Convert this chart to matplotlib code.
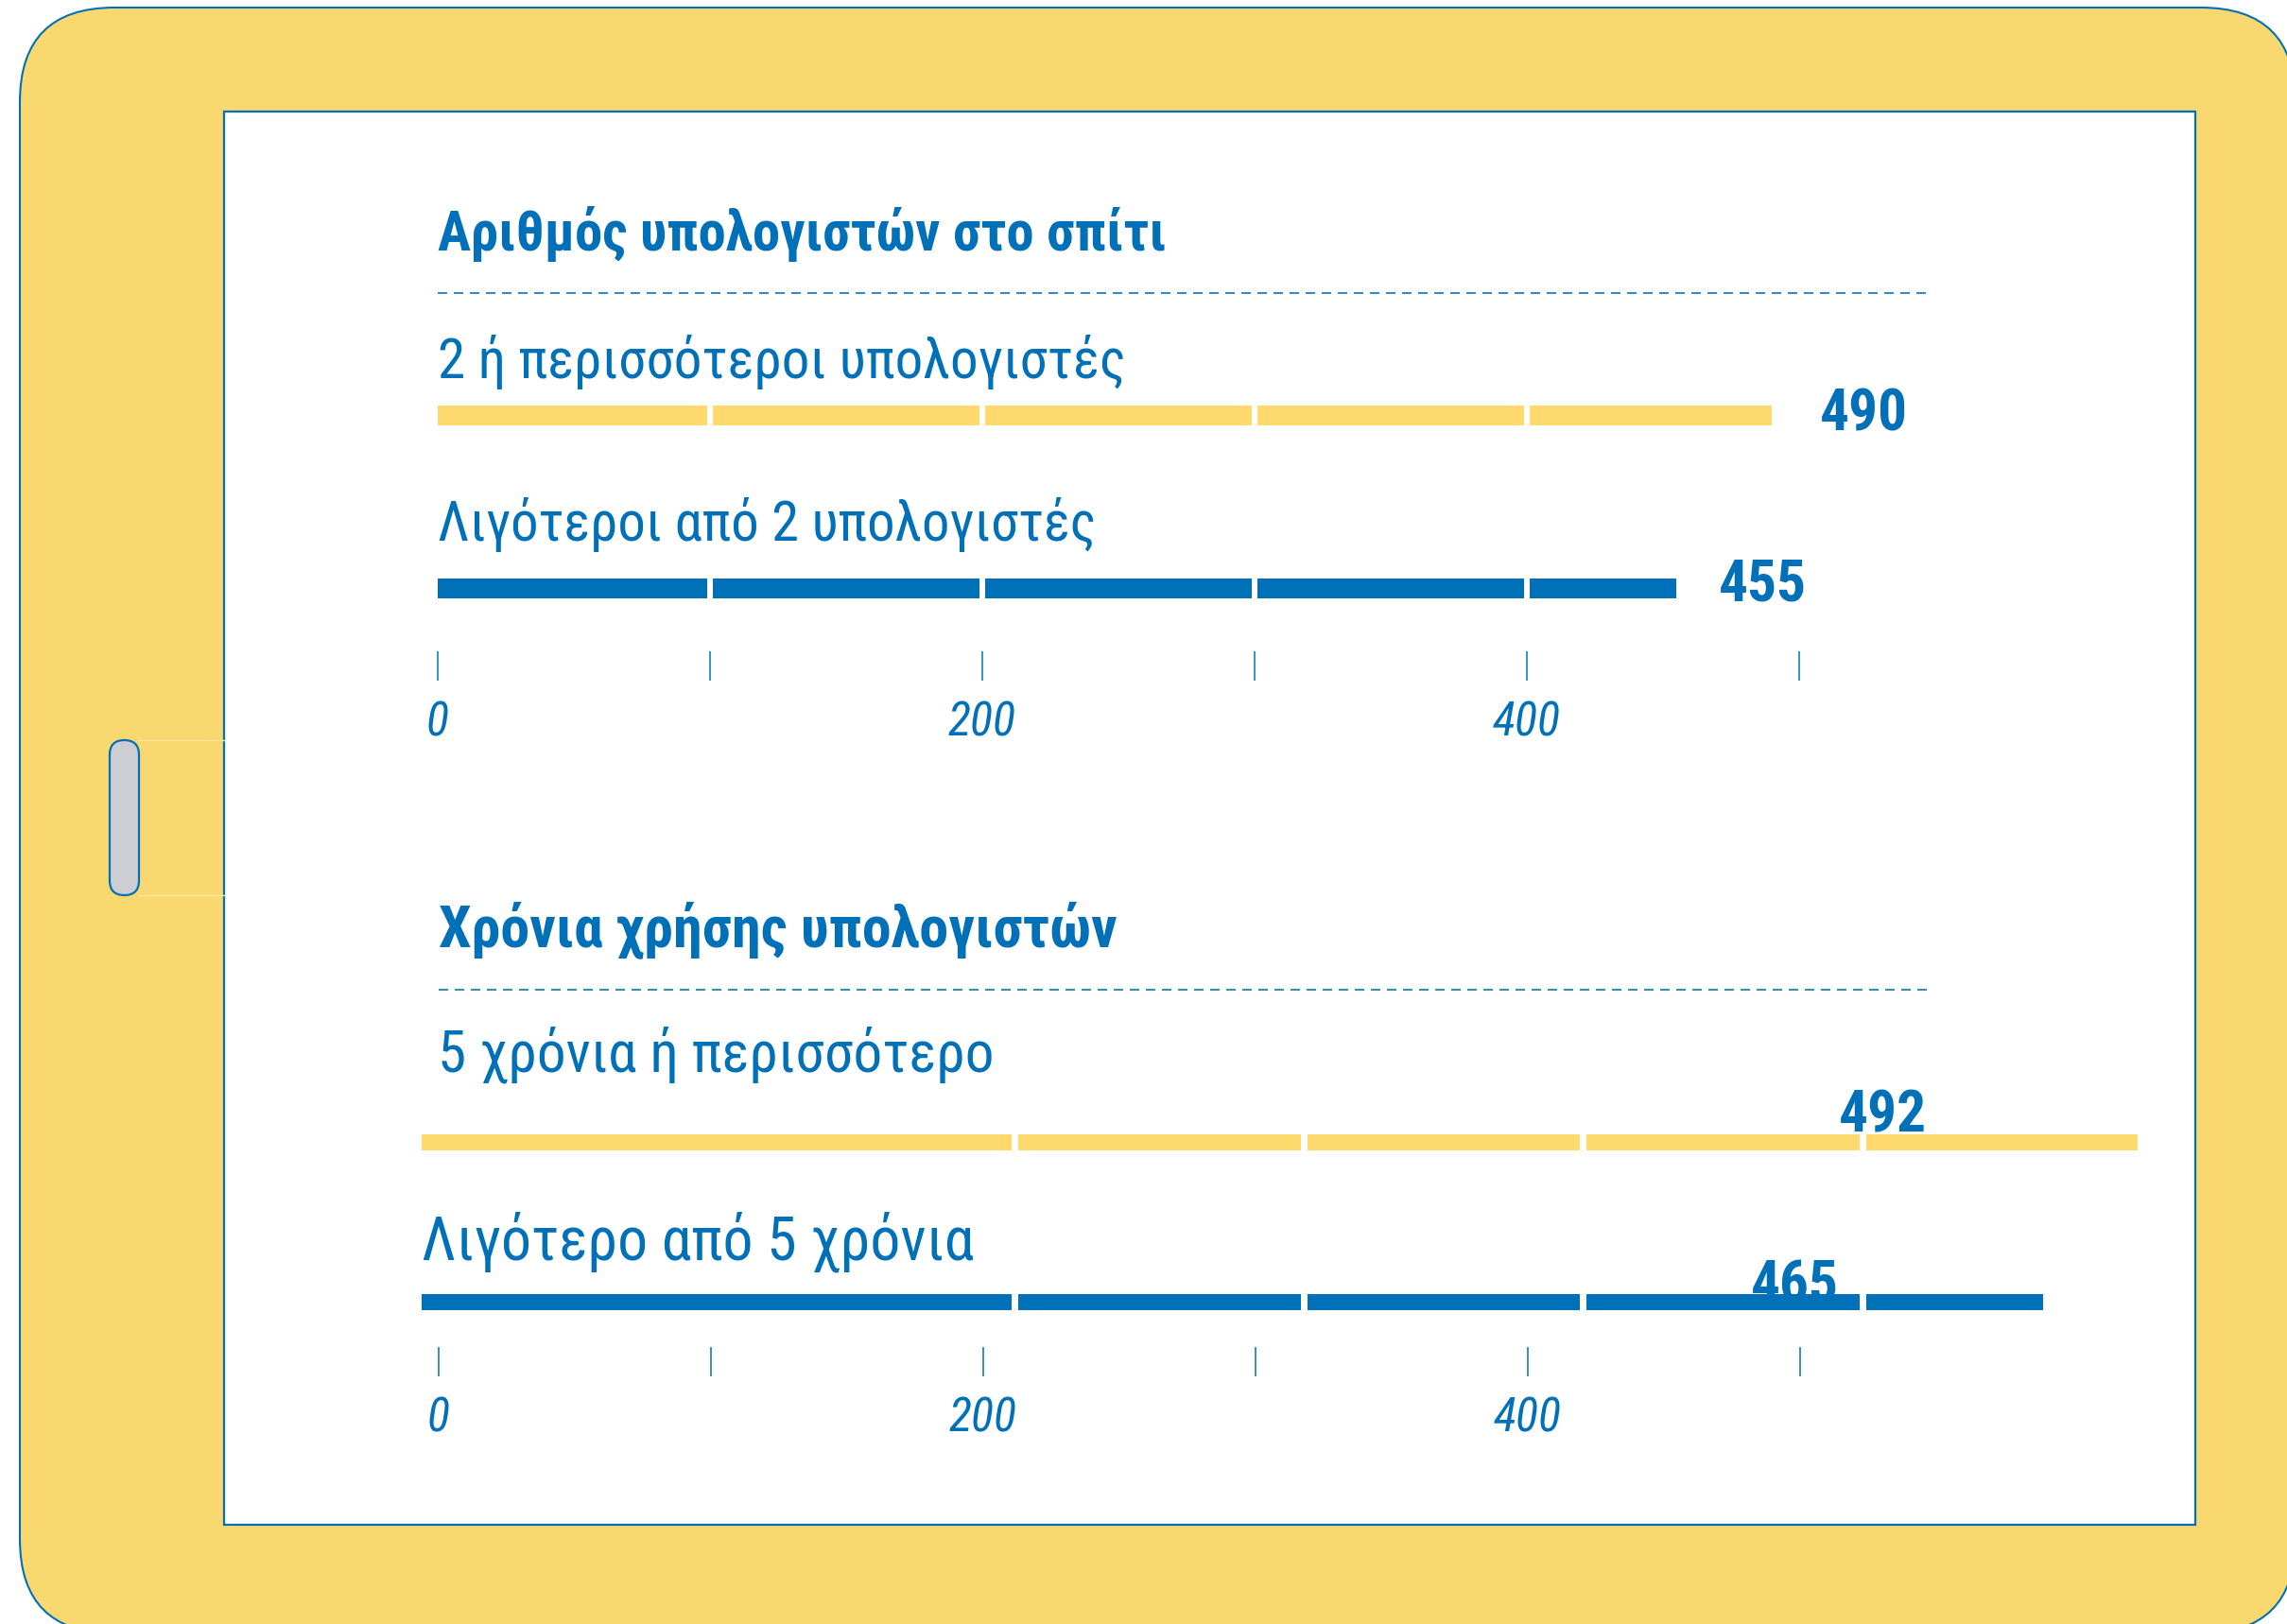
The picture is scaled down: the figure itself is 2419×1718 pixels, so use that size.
import matplotlib
matplotlib.use("Agg")
import matplotlib.pyplot as plt
import matplotlib.transforms as mtransforms
from matplotlib.patches import FancyBboxPatch, Rectangle

# ---------------- data ----------------
panel1_title = "Αριθμός υπολογιστών στο σπίτι"
panel1_categories = ["2 ή περισσότεροι υπολογιστές", "Λιγότεροι από 2 υπολογιστές"]
panel1_values = [490, 455]

panel2_title = "Χρόνια χρήσης υπολογιστών"
panel2_categories = ["5 χρόνια ή περισσότερο", "Λιγότερο από 5 χρόνια"]
panel2_values = [492, 465]

tick_values = [0, 100, 200, 300, 400, 500]
tick_labels = ["0", "", "200", "", "400", ""]

# ---------------- style ----------------
W, H, DPI = 2419, 1718, 100
BLUE = "#0070b8"
BAR_YELLOW = "#fed96d"
FRAME_YELLOW = "#f9d870"
BAR_COLORS = [BAR_YELLOW, BLUE]
FONT = ["Roboto Condensed", "Liberation Sans Narrow", "Noto Sans", "DejaVu Sans"]
plt.rcParams["font.family"] = FONT

PX = 72.0 / DPI  # points per pixel

fig = plt.figure(figsize=(W / DPI, H / DPI), dpi=DPI)
fig.patch.set_facecolor("white")
renderer = fig.canvas.get_renderer()


def fr(x0, y0, x1, y1):
    """pixel box (top-left origin) -> figure fraction rect"""
    return [x0 / W, 1 - y1 / H, (x1 - x0) / W, (y1 - y0) / H]


def text_width(s, **kw):
    t = fig.text(0, 0, s, **kw)
    w = t.get_window_extent(renderer).width
    t.remove()
    return w


def fit_size(s, target, size0=30.0, **kw):
    size = size0
    for _ in range(3):
        size *= target / text_width(s, fontsize=size, **kw)
    return size


# target rendered widths (px) of the texts in the layout
title_sizes = [fit_size(panel1_title, 772, fontweight="bold"),
               fit_size(panel2_title, 718, fontweight="bold")]
label_sizes1 = [fit_size(panel1_categories[0], 728), fit_size(panel1_categories[1], 697)]
label_sizes2 = [fit_size(panel2_categories[0], 588), fit_size(panel2_categories[1], 584)]
value_size = fit_size("490", 93, fontweight="bold")
tick_size = fit_size("400", 72, fontstyle="italic")

# ---------------- tablet frame (decoration) ----------------
bg = fig.add_axes([0, 0, 1, 1])
bg.set_xlim(0, W)
bg.set_ylim(H, 0)
bg.axis("off")
bg.add_patch(FancyBboxPatch((21, 8), 2407, 1720,
                            boxstyle="round,pad=0,rounding_size=100",
                            fc=FRAME_YELLOW, ec=BLUE, lw=1.5))
bg.add_patch(Rectangle((237, 118), 2322 - 237, 1613 - 118,
                       fc="white", ec=BLUE, lw=1.6))
bg.plot([147, 237], [783, 783], color="#fce7a8", lw=1)
bg.plot([147, 237], [947, 947], color="#fce7a8", lw=1)
bg.add_patch(FancyBboxPatch((116, 783), 31, 164,
                            boxstyle="round,pad=0,rounding_size=15.5",
                            fc="#cdced3", ec=BLUE, lw=1.6))

# ---------------- helpers ----------------
def style_tick_axis(ax):
    for sp in ax.spines.values():
        sp.set_visible(False)
    ax.set_xticks(tick_values)
    ax.set_xticklabels(tick_labels, fontsize=tick_size, fontstyle="italic", color=BLUE)
    ax.tick_params(axis="x", direction="in", length=31 * PX, width=1.5 * PX,
                   color=BLUE, pad=21 * PX)
    ax.set_yticks([])
    ax.patch.set_visible(False)


def dashed_top(ax):
    ax.plot([0, 1], [1, 1], transform=ax.transAxes, color=BLUE,
            lw=1.6 * PX, ls=(0, (10 / 1.6, 7 / 1.6)), clip_on=False)


def draw_bars(ax, values, height, gaps, gap_px):
    ax.barh(range(len(values)), values, height=height, color=BAR_COLORS, zorder=2)
    for i, v in enumerate(values):
        g = [x for x in gaps if x < v]
        ax.vlines(g, i - height / 2 - 0.01, i + height / 2 + 0.01,
                  colors="white", lw=gap_px * PX, zorder=3)


# ---------------- panel 1 ----------------
SCALE = 2.88  # pixels per unit for the value axis
row_px = 183.5
c0_px = 439
ax1 = fig.add_axes(fr(463, 310, 2039, 720))
ax1.set_xlim(0, (2039 - 463) / SCALE)
ax1.set_ylim((720 - c0_px) / row_px, (310 - c0_px) / row_px)
style_tick_axis(ax1)
dashed_top(ax1)
draw_bars(ax1, panel1_values, 21 / row_px, [100, 200, 300, 400], 6)

ax1.annotate(panel1_title, xy=(0, 1), xycoords="axes fraction",
             xytext=(0, 45), textcoords="offset pixels",
             fontsize=title_sizes[0], fontweight="bold", color=BLUE,
             ha="left", va="baseline")
label_dy1 = [39, 50.5]
value_dx1 = [51, 44]
value_dy1 = [-16, -12.5]
for i, (cat, v) in enumerate(zip(panel1_categories, panel1_values)):
    ax1.annotate(cat, xy=(0, i), xytext=(0, label_dy1[i]), textcoords="offset pixels",
                 fontsize=label_sizes1[i], color=BLUE, ha="left", va="baseline")
    ax1.annotate(str(v), xy=(v, i), xytext=(value_dx1[i], value_dy1[i]),
                 textcoords="offset pixels", fontsize=value_size, fontweight="bold",
                 color=BLUE, ha="left", va="baseline")

# ---------------- panel 2 ----------------
row2_px = 169
c20_px = 1208.5
ylim2 = ((1456 - c20_px) / row2_px, (1047 - c20_px) / row2_px)
ax2 = fig.add_axes(fr(464, 1047, 2040, 1456))
ax2.set_xlim(0, (2040 - 464) / SCALE)
ax2.set_ylim(*ylim2)
style_tick_axis(ax2)
dashed_top(ax2)

SCALE2 = 3.689
ax2b = fig.add_axes(fr(446, 1047, 2300, 1456))
ax2b.set_xlim(0, (2300 - 446) / SCALE2)
ax2b.set_ylim(*ylim2)
ax2b.axis("off")
ax2b.patch.set_visible(False)
draw_bars(ax2b, panel2_values, 17 / row2_px, [170, 253, 333, 413], 7)

ax2.annotate(panel2_title, xy=(0, 1), xycoords="axes fraction",
             xytext=(0, 46), textcoords="offset pixels",
             fontsize=title_sizes[1], fontweight="bold", color=BLUE,
             ha="left", va="baseline")
label_dx2 = [17, 0]
label_dy2 = [75, 45.5]
value_dx2 = [64, 49]
value_dy2 = [11.5, 0]
blend = mtransforms.blended_transform_factory(ax2.transData, ax2b.transData)
for i, (cat, v) in enumerate(zip(panel2_categories, panel2_values)):
    ax2b.annotate(cat, xy=(0, i), xytext=(label_dx2[i], label_dy2[i]),
                  textcoords="offset pixels", fontsize=label_sizes2[i], color=BLUE,
                  ha="left", va="baseline")
    ax2.annotate(str(v), xy=(v, i), xycoords=blend,
                 xytext=(value_dx2[i], value_dy2[i]), textcoords="offset pixels",
                 fontsize=value_size, fontweight="bold", color=BLUE,
                 ha="left", va="baseline", annotation_clip=False)

fig.savefig("out.png", dpi=DPI, facecolor="white")
